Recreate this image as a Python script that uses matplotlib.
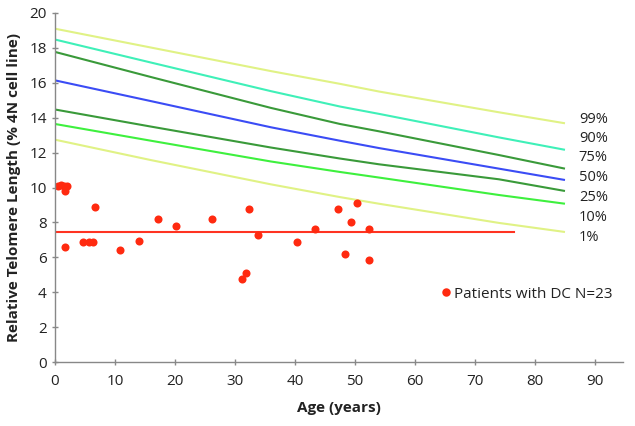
import matplotlib
matplotlib.use("Agg")
import matplotlib.pyplot as plt

plt.rcParams['font.family'] = ['Open Sans', 'DejaVu Sans']

# Percentile reference curves (age in years -> relative telomere length)
curve_ages = [0, 16, 36, 47.5, 54, 74, 85]
p99 = [19.1, 18.02, 16.67, 15.94, 15.5, 14.31, 13.68]
p90 = [18.48, 17.16, 15.52, 14.64, 14.22, 12.87, 12.16]
p75 = [17.77, 16.33, 14.56, 13.64, 13.22, 11.86, 11.08]
p50 = [16.14, 14.95, 13.45, 12.68, 12.26, 11.08, 10.43]
p25 = [14.47, 13.49, 12.29, 11.66, 11.33, 10.47, 9.8]
p10 = [13.64, 12.68, 11.49, 10.89, 10.57, 9.57, 9.07]
p01 = [12.74, 11.57, 10.18, 9.45, 9.07, 7.97, 7.45]
curve_labels = ["99%", "90%", "75%", "50%", "25%", "10%", "1%"]
label_y = [13.9, 12.8, 11.7, 10.55, 9.45, 8.3, 7.15]

# Patients with DC
pat_age = [0.5, 1.0, 1.5, 2.0, 1.7, 1.7, 4.6, 5.7, 6.3, 6.7, 10.8, 14.0, 17.1, 20.1,
           26.2, 31.1, 31.9, 32.3, 33.9, 40.3, 43.3, 47.2, 50.3, 49.3, 52.3, 48.3, 52.3]
pat_tl = [10.1, 10.15, 10.1, 10.1, 9.8, 6.6, 6.9, 6.9, 6.9, 8.9, 6.4, 6.95, 8.2, 7.8,
          8.2, 4.75, 5.1, 8.76, 7.3, 6.9, 7.65, 8.76, 9.1, 8.0, 7.65, 6.2, 5.85]

# Patient mean line
mean_age = [0, 76.5]
mean_tl = [7.45, 7.45]

fig = plt.figure(figsize=(6.35, 4.26), dpi=100)
ax = fig.add_axes([55/635, 1-362/426, 568/635, 349/426])

curves = [p99, p90, p75, p50, p25, p10, p01]
colors = ["#e0f285", "#3ff0b8", "#3a9a3a", "#3b4cf5", "#3a9a3a", "#3ef03e", "#e0f285"]
for vals, c in zip(curves, colors):
    ax.plot(curve_ages, vals, color=c, lw=1.5, solid_capstyle='butt')
for lab, yv in zip(curve_labels, label_y):
    ax.text(87.3, yv, lab, fontsize=10.5, color="#222222", va='center', ha='left', clip_on=False)

ax.plot(mean_age, mean_tl, color="#ff3322", lw=1.5)
ax.plot(pat_age, pat_tl, 'o', color="#ff2a10", markersize=5.8, markeredgewidth=0,
        label="Patients with DC N=23", linestyle='none')

leg = ax.legend(loc='center left', bbox_to_anchor=(442/635, 1-294/426),
                bbox_transform=fig.transFigure, frameon=False, fontsize=11,
                handlelength=0.5, handletextpad=0.3, borderpad=0, borderaxespad=0,
                markerscale=1.05)
for t in leg.get_texts():
    t.set_color("#222222")

ax.set_xlim(0, 94.67)
ax.set_ylim(0, 20)
ax.set_xticks(range(0, 100, 10))
ax.set_yticks(range(0, 22, 2))
for s in ['top', 'right']:
    ax.spines[s].set_visible(False)
for s in ['left', 'bottom']:
    ax.spines[s].set_color("#888888")
    ax.spines[s].set_linewidth(1.0)
ax.tick_params(axis='both', direction='inout', length=5, width=1, color="#888888",
               labelsize=11, labelcolor="#222222")
ax.tick_params(axis='x', pad=6)
ax.set_xlabel("Age (years)", fontsize=11, fontweight='bold', labelpad=9, color="#222222")
ax.set_ylabel("Relative Telomere Length (% 4N cell line)", fontsize=11, fontweight='bold',
              labelpad=6, color="#222222")

fig.savefig("out.png", dpi=100)
